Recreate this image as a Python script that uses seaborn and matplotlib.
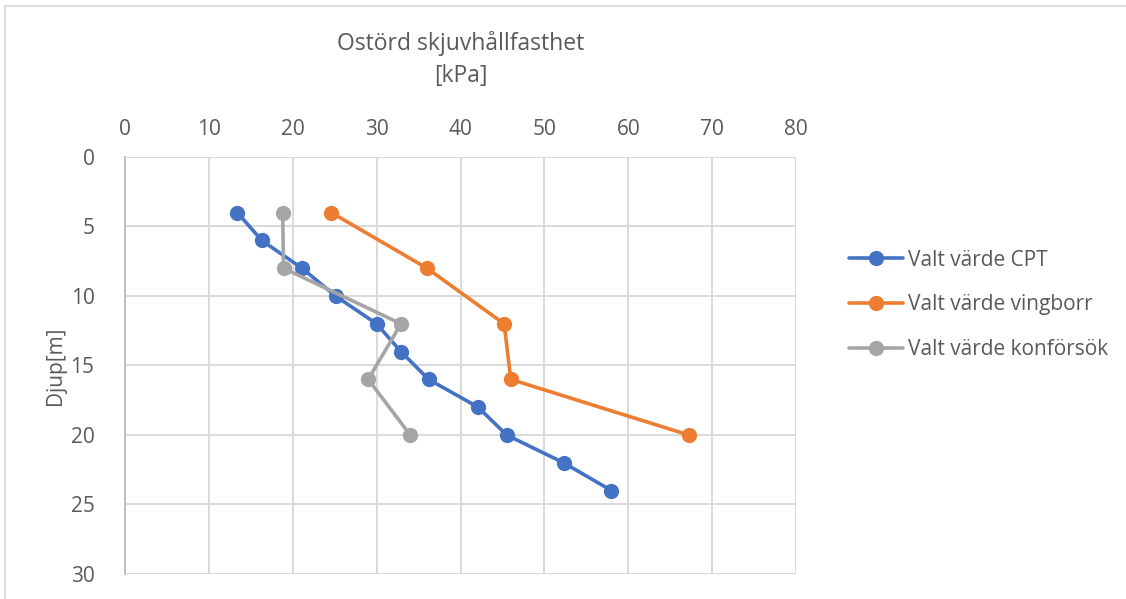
import matplotlib
matplotlib.use("Agg")
import matplotlib.pyplot as plt
import seaborn as sns
import pandas as pd
from matplotlib.patches import Rectangle

# Data
depth_cpt = [4, 6, 8, 10, 12, 14, 16, 18, 20, 22, 24]
val_cpt = [13.4, 16.3, 21.1, 25.1, 30.0, 32.9, 36.2, 42.1, 45.5, 52.3, 58.0]
depth_ving = [4, 8, 12, 16, 20]
val_ving = [24.6, 36.0, 45.2, 46.0, 67.2]
depth_kon = [4, 8, 12, 16, 20]
val_kon = [18.8, 18.9, 32.9, 29.0, 34.0]
series_names = ["Valt värde CPT", "Valt värde vingborr", "Valt värde konförsök"]
colors = ["#4472C4", "#ED7D31", "#A5A5A5"]
x_ticks = [0, 10, 20, 30, 40, 50, 60, 70, 80]
y_ticks = [0, 5, 10, 15, 20, 25, 30]
x_label = "Ostörd skjuvhållfasthet\n[kPa]"
y_label = "Djup[m]"

sns.set_theme(style="white")
plt.rcParams['font.family'] = ['Open Sans', 'DejaVu Sans']
text_color = "#595959"

fig = plt.figure(figsize=(11.26, 5.99), dpi=100)
ax = fig.add_axes([125/1126, 1-574/599, (796-125)/1126, (574-157)/599])

frames = []
for name, d, v in [(series_names[0], depth_cpt, val_cpt),
                   (series_names[1], depth_ving, val_ving),
                   (series_names[2], depth_kon, val_kon)]:
    frames.append(pd.DataFrame({"Depth": d, "Value": v, "Serie": name}))
df = pd.concat(frames, ignore_index=True)

for name, col in zip(series_names, colors):
    sub = df[df["Serie"] == name]
    sns.lineplot(data=sub, x="Value", y="Depth", sort=False, estimator=None,
                 color=col, marker="o", markersize=11, markeredgewidth=0,
                 linewidth=2.6, label=name, ax=ax, zorder=3)

ax.set_xlim(0, 80)
ax.set_ylim(30, 0)
ax.set_xticks(x_ticks)
ax.set_yticks(y_ticks)
ax.xaxis.tick_top()
ax.xaxis.set_label_position("top")
ax.grid(True, color="#D9D9D9", linewidth=1.4)
ax.set_axisbelow(True)
for s in ["top", "right", "bottom"]:
    ax.spines[s].set_visible(False)
ax.spines["left"].set_color("#BFBFBF")
ax.spines["left"].set_linewidth(1.4)
ax.tick_params(axis="both", length=0, labelsize=15, labelcolor=text_color)
ax.tick_params(axis="x", pad=12)
ax.tick_params(axis="y", pad=22)
ax.set_xlabel(x_label, fontsize=16.5, color=text_color, labelpad=27, linespacing=1.45)
ax.set_ylabel(y_label, fontsize=15, color=text_color, labelpad=3)

leg = ax.legend(loc="center left", bbox_to_anchor=(830/1126, 1-305/599),
                bbox_transform=fig.transFigure, frameon=False, fontsize=15,
                handlelength=2.6, handletextpad=0.25, labelspacing=1.15)
for t in leg.get_texts():
    t.set_color(text_color)

# chart area border (left & top visible)
fig.patches.append(Rectangle((5/1126, -0.1), 1.2, 1 - 6/599 + 0.1, transform=fig.transFigure,
                             fill=False, edgecolor="#D9D9D9", linewidth=1.3))

fig.savefig("out.png", dpi=100)
